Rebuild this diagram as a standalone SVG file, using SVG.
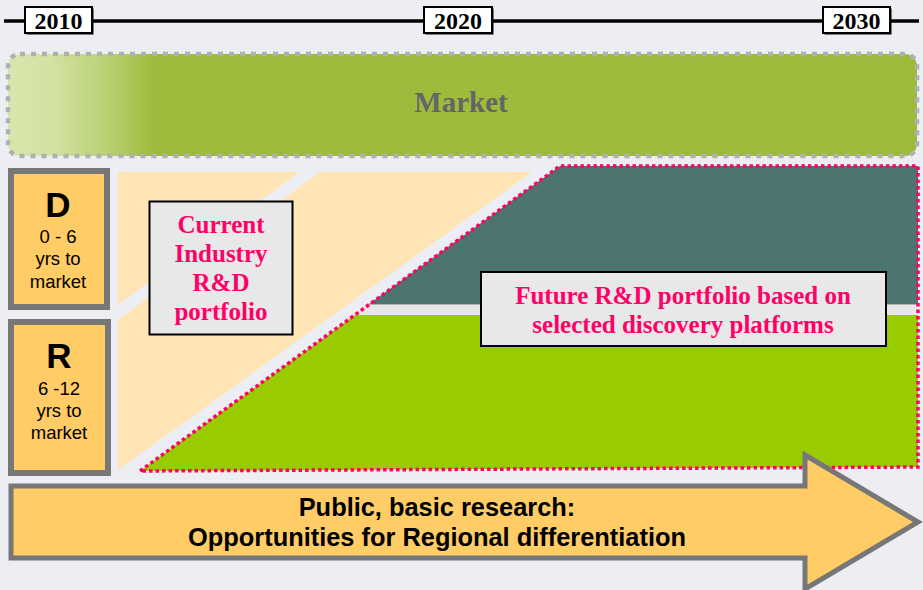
<svg xmlns="http://www.w3.org/2000/svg" width="923" height="590" viewBox="0 0 923 590">
<defs>
<linearGradient id="mkt" x1="8" y1="0" x2="917" y2="0" gradientUnits="userSpaceOnUse">
<stop offset="0" stop-color="#D8E6AE"/>
<stop offset="0.05" stop-color="#D2E2A2"/>
<stop offset="0.11" stop-color="#B9D073"/>
<stop offset="0.16" stop-color="#9EBC3C"/>
<stop offset="1" stop-color="#9DBB3A"/>
</linearGradient>
</defs>
<style>
.year{fill:#fff;stroke:#000;stroke-width:2}
.ysh{fill:#000}
.yt{font-family:"Liberation Serif","Times New Roman",serif;font-weight:bold;font-size:24px;fill:#000;text-anchor:middle}
.side{fill:#FFCC66;stroke:#777;stroke-width:6}
.big{font-family:"Liberation Sans",Arial,sans-serif;font-weight:bold;font-size:35px;fill:#000;text-anchor:middle}
.sm{font-family:"Liberation Sans",Arial,sans-serif;font-size:18.5px;fill:#000;text-anchor:middle}
.lbl{fill:#E8E8E8;stroke:#000;stroke-width:2}
.pk{font-family:"Liberation Serif","Times New Roman",serif;font-weight:bold;font-size:25px;fill:#FF0066;text-anchor:middle}
.ar{font-family:"Liberation Sans",Arial,sans-serif;font-weight:bold;font-size:25.4px;fill:#000;text-anchor:middle}
</style>
<rect x="0" y="0" width="923" height="590" fill="#EDEEF3"/>

<g id="timeline">
<line x1="4" y1="21" x2="919" y2="21" stroke="#000" stroke-width="3.5"/>
<g id="y2010"><rect class="ysh" x="26.5" y="8.5" width="67" height="26"/><rect class="year" x="25" y="7" width="67" height="26"/><text class="yt" x="58.5" y="29">2010</text></g>
<g id="y2020"><rect class="ysh" x="425.5" y="8.5" width="68" height="26"/><rect class="year" x="424" y="7" width="68" height="26"/><text class="yt" x="458" y="29">2020</text></g>
<g id="y2030"><rect class="ysh" x="824.5" y="8.5" width="67" height="26"/><rect class="year" x="823" y="7" width="67" height="26"/><text class="yt" x="856.5" y="29">2030</text></g>
</g>

<g id="market">
<rect x="8" y="54" width="909" height="102" rx="12" fill="url(#mkt)" stroke="#B0B0B0" stroke-width="4.5" stroke-dasharray="5 6"/>
<text x="461" y="112" font-family="'Liberation Serif','Times New Roman',serif" font-weight="bold" font-size="29" fill="#656565" text-anchor="middle">Market</text>
</g>

<g id="current-area">
<polygon points="118,172 532,172 118,470" fill="#FFE4B5"/>
<line x1="110" y1="318" x2="318" y2="166" stroke="#EDEEF3" stroke-width="12"/>
</g>

<g id="future-area">
<polygon points="140,471 560,166 918,166 918,467" fill="#99CC00"/>
<polygon points="560,166 918,166 918,304 369,304" fill="#4C7570"/>
<polygon points="369,304 918,304 918,315 354,315" fill="#E7E7E7"/>
<line x1="366" y1="304.5" x2="918" y2="304.5" stroke="#A9B6B3" stroke-width="1"/>
<polygon points="140,471 560,166 918,166 918,467" fill="none" stroke="#FF0066" stroke-width="3.5" stroke-dasharray="3.5 3"/>
</g>

<g id="D">
<rect class="side" x="11" y="171" width="96" height="136"/>
<text class="big" x="58" y="217">D</text>
<text class="sm" x="58" y="243">0 - 6</text>
<text class="sm" x="58" y="265">yrs to</text>
<text class="sm" x="58" y="288">market</text>
</g>

<g id="R">
<rect class="side" x="11" y="322" width="97" height="151"/>
<text class="big" x="59" y="368">R</text>
<text class="sm" x="59" y="395">6 -12</text>
<text class="sm" x="59" y="417">yrs to</text>
<text class="sm" x="59" y="439">market</text>
</g>

<g id="current-label">
<rect class="lbl" x="149.5" y="201.5" width="143" height="133"/>
<text class="pk" x="221" y="233">Current</text>
<text class="pk" x="221" y="262">Industry</text>
<text class="pk" x="221" y="291">R&amp;D</text>
<text class="pk" x="221" y="320">portfolio</text>
</g>

<g id="future-label">
<rect class="lbl" x="481" y="272" width="405" height="74"/>
<text class="pk" x="683" y="304">Future R&amp;D portfolio based on</text>
<text class="pk" x="683" y="333">selected discovery platforms</text>
</g>

<g id="research-arrow">
<polygon points="11,486 805,486 805,455 918,522 805,589 805,558 11,558" fill="#FFCC66" stroke="#777" stroke-width="5" stroke-linejoin="miter"/>
<text class="ar" x="437" y="516">Public, basic research:</text>
<text class="ar" x="437" y="546">Opportunities for Regional differentiation</text>
</g>

<g id="connectors"></g>
</svg>
